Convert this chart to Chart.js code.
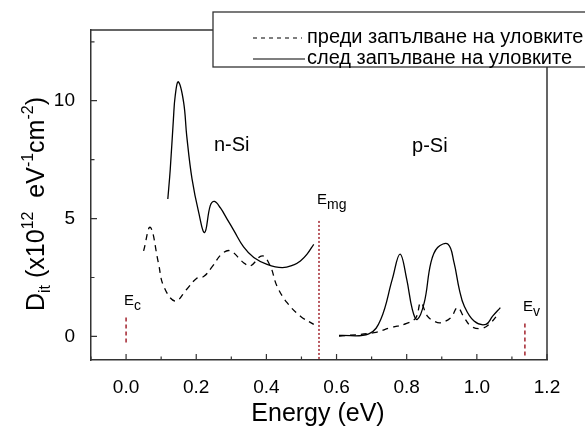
<html>

<head>
    <title>Dit</title>
    <style>
        html,
        body {
            margin: 0;
            padding: 0;
            background: #fff;
        }
    </style>
</head>

<body>
    <canvas id="chart" width="585" height="427" style="width:585px; height:427px;"></canvas>

    <script src="https://cdn.jsdelivr.net/npm/chart.js@4"></script>
    <script>
        // values
        var xTicks = [0, 0.2, 0.4, 0.6, 0.8, 1.0, 1.2]
        var xMinor = [-0.1, 0.1, 0.3, 0.5, 0.7, 0.9, 1.1]
        var yTicks = [0, 5, 10]
        var yMinor = [2.5, 7.5, 12.5]

        var legendLabels = ['преди запълване на уловките', 'след запълване на уловките']

        // before filling (dashed)
        var nBeforeX = [0.05, 0.069, 0.092, 0.107, 0.14, 0.173, 0.2, 0.222, 0.245, 0.273, 0.297, 0.335, 0.354, 0.388, 0.411, 0.43, 0.459, 0.497, 0.535]
        var nBeforeY = [3.63, 4.63, 3.13, 2.14, 1.5, 2.0, 2.45, 2.55, 2.95, 3.5, 3.63, 3.13, 2.99, 3.42, 2.99, 2.14, 1.43, 0.86, 0.51]
        var pBeforeX = [0.607, 0.707, 0.754, 0.8, 0.826, 0.84, 0.859, 0.878, 0.897, 0.926, 0.945, 0.964, 0.983, 1.011, 1.035, 1.064]
        var pBeforeY = [0.01, 0.16, 0.37, 0.55, 0.79, 1.43, 0.86, 0.65, 0.58, 0.8, 1.22, 0.8, 0.44, 0.33, 0.51, 1.01]

        // after filling (solid)
        var nAfterX = [0.119, 0.126, 0.135, 0.14, 0.149, 0.164, 0.173, 0.188, 0.207, 0.224, 0.24, 0.252, 0.269, 0.288, 0.307, 0.335, 0.364, 0.402, 0.445, 0.478, 0.497, 0.516, 0.535]
        var nAfterY = [5.83, 7.1, 9.23, 10.2, 10.8, 9.94, 8.5, 6.68, 5.26, 4.41, 5.55, 5.73, 5.45, 4.98, 4.5, 3.8, 3.35, 3.06, 2.92, 3.04, 3.2, 3.49, 3.91]
        var pAfterX = [0.607, 0.692, 0.726, 0.759, 0.781, 0.8, 0.816, 0.83, 0.85, 0.869, 0.888, 0.918, 0.935, 0.95, 0.964, 0.992, 1.026, 1.045, 1.067]
        var pAfterY = [0.04, 0.11, 0.72, 2.43, 3.49, 2.43, 1.15, 0.72, 1.43, 3.13, 3.77, 3.91, 3.13, 2.0, 1.29, 0.65, 0.51, 0.86, 1.22]

        // band levels
        var levelSubs = ['c', 'mg', 'v']
        var levelX = [0.0, 0.55, 1.137]
        var levelTop = [0.8, 4.9, 0.55]
        var levelBottom = [-0.26, -1, -0.9]
        var levelLabelY = [1.32, 5.62, 1.06]

        var regionNames = ['n-Si', 'p-Si']
        var regionX = [0.301, 0.866]
        var regionY = [7.87, 7.83]

        var FONT = '"Liberation Sans", Arial, sans-serif'
        var AXIS = '#333'
        var RED = '#a3232d'

        function pts(xs, ys) {
            return xs.map(function (x, i) { return { x: x, y: ys[i] } })
        }

        function curve(xs, ys, dash) {
            return {
                data: pts(xs, ys),
                showLine: true,
                borderColor: '#000',
                borderWidth: 1.3,
                borderDash: dash,
                pointRadius: 0,
                tension: 0.4,
                fill: false
            }
        }

        var datasets = [
            curve(nBeforeX, nBeforeY, [6, 5]),
            curve(pBeforeX, pBeforeY, [6, 5]),
            curve(nAfterX, nAfterY, []),
            curve(pAfterX, pAfterY, [])
        ]
        levelX.forEach(function (x, i) {
            datasets.push({
                data: [{ x: x, y: levelTop[i] }, { x: x, y: levelBottom[i] }],
                showLine: true,
                borderColor: RED,
                borderWidth: 1.5,
                borderDash: i == 1 ? [2, 2] : [4, 3],
                pointRadius: 0,
                fill: false
            })
        })

        function richText(ctx, parts, x, y) {
            parts.forEach(function (p) {
                ctx.font = p.size + 'px ' + FONT
                ctx.fillText(p.t, x, y + p.dy)
                x += ctx.measureText(p.t).width
            })
        }
        function richWidth(ctx, parts) {
            var w = 0
            parts.forEach(function (p) {
                ctx.font = p.size + 'px ' + FONT
                w += ctx.measureText(p.t).width
            })
            return w
        }

        var decor = {
            id: 'decor',
            afterDatasetsDraw: function (c) {
                var ctx = c.ctx, a = c.chartArea
                var xs = c.scales.x, ys = c.scales.y
                ctx.save()

                // frame top/right
                ctx.strokeStyle = AXIS
                ctx.lineWidth = 1.5
                ctx.beginPath()
                ctx.moveTo(a.left, a.top)
                ctx.lineTo(a.right, a.top)
                ctx.lineTo(a.right, a.bottom)
                ctx.stroke()

                // inward ticks
                ctx.lineWidth = 1.2
                ctx.beginPath()
                xTicks.forEach(function (v) {
                    var px = xs.getPixelForValue(v)
                    ctx.moveTo(px, a.bottom); ctx.lineTo(px, a.bottom - 6)
                })
                xMinor.forEach(function (v) {
                    var px = xs.getPixelForValue(v)
                    ctx.moveTo(px, a.bottom); ctx.lineTo(px, a.bottom - 3.5)
                })
                yTicks.forEach(function (v) {
                    var py = ys.getPixelForValue(v)
                    ctx.moveTo(a.left, py); ctx.lineTo(a.left + 6, py)
                })
                yMinor.forEach(function (v) {
                    var py = ys.getPixelForValue(v)
                    ctx.moveTo(a.left, py); ctx.lineTo(a.left + 3.5, py)
                })
                ctx.stroke()

                // level labels
                ctx.fillStyle = '#000'
                ctx.textBaseline = 'alphabetic'
                ctx.textAlign = 'left'
                levelX.forEach(function (x, i) {
                    var px = xs.getPixelForValue(x) - 2
                    var py = ys.getPixelForValue(levelLabelY[i])
                    richText(ctx, [{ t: 'E', size: 15, dy: 0 }, { t: levelSubs[i], size: 14, dy: 5 }], px, py)
                })

                // region names
                ctx.font = '20px ' + FONT
                ctx.textAlign = 'center'
                regionNames.forEach(function (n, i) {
                    ctx.fillText(n, xs.getPixelForValue(regionX[i]), ys.getPixelForValue(regionY[i]))
                })

                // legend box
                ctx.fillStyle = '#fff'
                ctx.fillRect(213, 12, 380, 55)
                ctx.strokeStyle = AXIS
                ctx.lineWidth = 1.3
                ctx.strokeRect(213, 12, 380, 55)
                ctx.strokeStyle = '#000'
                ctx.lineWidth = 1.2
                ctx.setLineDash([4, 4])
                ctx.beginPath(); ctx.moveTo(253, 38); ctx.lineTo(302, 38); ctx.stroke()
                ctx.setLineDash([])
                ctx.beginPath(); ctx.moveTo(253, 59); ctx.lineTo(305, 59); ctx.stroke()
                ctx.fillStyle = '#000'
                ctx.textAlign = 'left'
                ctx.font = '20px ' + FONT
                ctx.fillText(legendLabels[0], 307, 43)
                ctx.fillText(legendLabels[1], 307, 64)

                // axis titles
                ctx.font = '25px ' + FONT
                ctx.textAlign = 'center'
                ctx.fillText('Energy (eV)', 318, 421)

                var parts = [
                    { t: 'D', size: 25, dy: 0 },
                    { t: 'it', size: 16, dy: 6 },
                    { t: ' (x10', size: 25, dy: 0 },
                    { t: '12', size: 16, dy: -11 },
                    { t: '  eV', size: 25, dy: 0 },
                    { t: '-1', size: 16, dy: -11 },
                    { t: 'cm', size: 25, dy: 0 },
                    { t: '-2', size: 16, dy: -11 },
                    { t: ')', size: 25, dy: 0 }
                ]
                ctx.textAlign = 'left'
                ctx.translate(44, 204)
                ctx.rotate(-Math.PI / 2)
                richText(ctx, parts, -richWidth(ctx, parts) / 2, 0)
                ctx.restore()
            }
        }

        var my_chart = new Chart(chart.getContext('2d'), {
            type: 'scatter',
            data: { datasets: datasets },
            options: {
                responsive: false,
                animation: false,
                maintainAspectRatio: false,
                layout: { padding: { top: 30, right: 38, left: 0, bottom: 0 } },
                plugins: { legend: { display: false }, tooltip: { enabled: false } },
                scales: {
                    x: {
                        type: 'linear',
                        min: -0.1,
                        max: 1.2,
                        afterFit: function (s) { s.height = 67 },
                        afterBuildTicks: function (s) { s.ticks = xTicks.map(function (v) { return { value: v } }) },
                        grid: { display: false },
                        border: { display: true, color: AXIS, width: 1.5 },
                        ticks: {
                            padding: 8,
                            color: '#000',
                            font: { family: FONT, size: 19 },
                            maxRotation: 0,
                            callback: function (v) { return v.toFixed(1) }
                        }
                    },
                    y: {
                        type: 'linear',
                        min: -1,
                        max: 13,
                        afterFit: function (s) { s.width = 91 },
                        afterBuildTicks: function (s) { s.ticks = yTicks.map(function (v) { return { value: v } }) },
                        grid: { display: false },
                        border: { display: true, color: AXIS, width: 1.5 },
                        ticks: {
                            padding: 8,
                            color: '#000',
                            font: { family: FONT, size: 19 },
                            callback: function (v) { return String(v) }
                        }
                    }
                }
            },
            plugins: [decor]
        });
    </script>
</body>

</html>
